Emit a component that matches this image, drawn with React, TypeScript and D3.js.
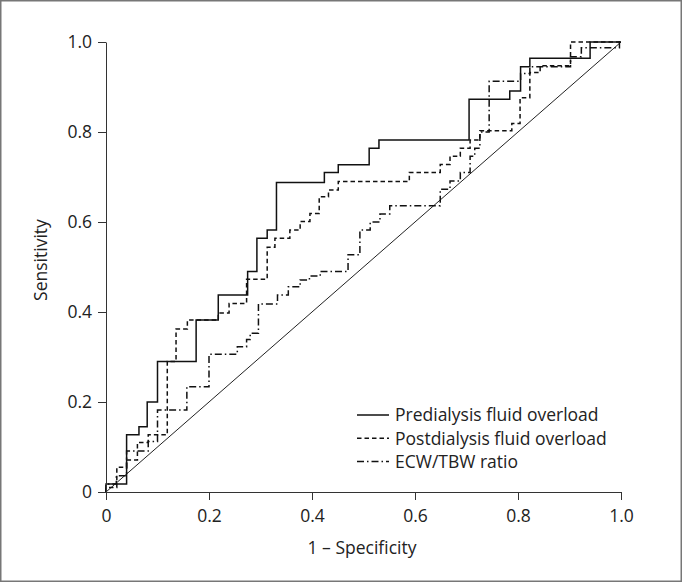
import React, { useRef, useEffect } from 'react';
import * as d3 from 'd3';

// ROC steps: at each fpr the sensitivity rises to tpr
const preFpr = [0, 0, 0.04, 0.064, 0.08, 0.1, 0.175, 0.218, 0.275, 0.293, 0.313, 0.331, 0.424, 0.451, 0.511, 0.53, 0.705, 0.784, 0.805, 0.823, 0.94, 1];
const preTpr = [0, 0.018, 0.127, 0.145, 0.2, 0.29, 0.382, 0.438, 0.49, 0.564, 0.582, 0.688, 0.71, 0.727, 0.764, 0.782, 0.873, 0.891, 0.945, 0.964, 1, 1];

const postFpr = [0, 0, 0.021, 0.04, 0.061, 0.082, 0.119, 0.136, 0.158, 0.218, 0.239, 0.273, 0.313, 0.328, 0.357, 0.377, 0.396, 0.414, 0.432, 0.451, 0.589, 0.649, 0.668, 0.688, 0.707, 0.726, 0.788, 0.804, 0.823, 0.843, 0.902, 1];
const postTpr = [0, 0.01, 0.055, 0.071, 0.11, 0.127, 0.29, 0.362, 0.382, 0.398, 0.419, 0.473, 0.544, 0.564, 0.582, 0.601, 0.619, 0.656, 0.671, 0.69, 0.71, 0.728, 0.746, 0.764, 0.782, 0.803, 0.819, 0.876, 0.932, 0.947, 1, 1];

const ecwFpr = [0, 0, 0.02, 0.04, 0.082, 0.1, 0.157, 0.2, 0.255, 0.273, 0.28, 0.296, 0.333, 0.354, 0.377, 0.395, 0.416, 0.47, 0.493, 0.513, 0.532, 0.551, 0.649, 0.668, 0.688, 0.707, 0.716, 0.726, 0.744, 0.805, 0.823, 0.902, 0.923, 0.997, 1];
const ecwTpr = [0, 0.018, 0.036, 0.091, 0.112, 0.182, 0.234, 0.306, 0.323, 0.339, 0.353, 0.418, 0.438, 0.456, 0.471, 0.48, 0.49, 0.527, 0.582, 0.6, 0.618, 0.636, 0.673, 0.691, 0.71, 0.746, 0.764, 0.8, 0.913, 0.93, 0.945, 0.967, 0.987, 1, 1];

const seriesNames = ['Predialysis fluid overload', 'Postdialysis fluid overload', 'ECW/TBW ratio'];
const axisTicks = [0, 0.2, 0.4, 0.6, 0.8, 1.0];

const font = '"Open Sans", sans-serif';
const ink = '#222';

const x = d3.scaleLinear().domain([0, 1]).range([106, 621]);
const y = d3.scaleLinear().domain([0, 1]).range([492, 42]);
const fmt = (d: number) => (d === 0 ? '0' : d3.format('.1f')(d));

const rocLine = d3
  .line<[number, number]>()
  .x((d) => x(d[0]))
  .y((d) => y(d[1]))
  .curve(d3.curveStepAfter);

const series = [
  { name: seriesNames[0], pts: preFpr.map((f, i) => [f, preTpr[i]] as [number, number]), dash: undefined },
  { name: seriesNames[1], pts: postFpr.map((f, i) => [f, postTpr[i]] as [number, number]), dash: '4.5,3' },
  { name: seriesNames[2], pts: ecwFpr.map((f, i) => [f, ecwTpr[i]] as [number, number]), dash: '7,3,1.5,3' },
];

const App = () => {
  const xRef = useRef<SVGGElement>(null);
  const yRef = useRef<SVGGElement>(null);

  useEffect(() => {
    const gx = d3.select(xRef.current);
    gx.call(d3.axisBottom(x).tickValues(axisTicks).tickSize(8).tickPadding(10).tickSizeOuter(0).tickFormat(fmt as any));
    const gy = d3.select(yRef.current);
    gy.call(d3.axisLeft(y).tickValues(axisTicks).tickSize(8).tickPadding(6).tickSizeOuter(0).tickFormat(fmt as any));
    [gx, gy].forEach((g) => {
      g.attr('font-family', font).attr('font-size', 17.5);
      g.selectAll('path,line').attr('stroke', '#333');
      g.selectAll('text').attr('fill', ink);
    });
  }, []);

  return (
    <svg width={682} height={582} style={{ position: 'absolute', left: 0, top: 0, background: '#fff' }} fontFamily={font}>
      <rect x={0.75} y={0.75} width={680.5} height={580.5} fill="#fff" stroke="#777" strokeWidth={1.5} />

      <line x1={x(0)} y1={y(0)} x2={x(1)} y2={y(1)} stroke="#222" strokeWidth={1} />

      {series.map((s) => (
        <path key={s.name} d={rocLine(s.pts) || ''} fill="none" stroke="#111" strokeWidth={1.5} strokeDasharray={s.dash} />
      ))}

      <g ref={xRef} transform={`translate(0,${y(0)})`} />
      <g ref={yRef} transform={`translate(${x(0)},0)`} />

      <text x={47} y={260} transform="rotate(-90,47,260)" textAnchor="middle" fontSize={17.5} fill={ink}>
        Sensitivity
      </text>
      <text x={362} y={554} textAnchor="middle" fontSize={17.5} fill={ink}>
        1 – Specificity
      </text>

      {series.map((s, i) => (
        <g key={s.name} transform={`translate(0,${415 + i * 23.3})`}>
          <line x1={357} x2={389} y1={0} y2={0} stroke="#111" strokeWidth={1.5} strokeDasharray={s.dash} />
          <text x={395} y={0} dy="0.36em" fontSize={17.5} fill={ink}>
            {s.name}
          </text>
        </g>
      ))}
    </svg>
  );
};

export default App;
